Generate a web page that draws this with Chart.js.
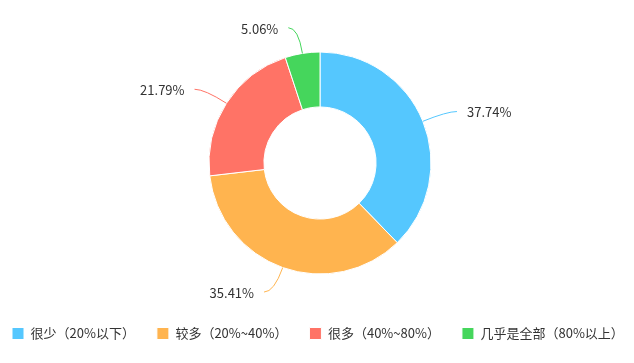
<!DOCTYPE html>
<html>
<head>
<meta charset="utf-8">
<script src="https://cdn.jsdelivr.net/npm/chart.js@4/dist/chart.umd.min.js"></script>
<style>
    html, body { margin: 0; padding: 0; background: #fff; overflow: hidden; }
    #outer { width: 634px; height: 363px; overflow: hidden; }
    #wrap { width: 640px; height: 363px; position: relative; }
</style>
</head>
<body>
<div id="outer"><div id="wrap"><canvas id="pieChart"></canvas></div></div>
<script>
// categories and shares
const categories = ['很少（20%以下）', '较多（20%~40%）', '很多（40%~80%）', '几乎是全部（80%以上）'];
const shares = [37.74, 35.41, 21.79, 5.06];
const sliceColors = ['#55c7fe', '#ffb44f', '#ff7366', '#45d65c'];

const FONT = '"Noto Sans CJK SC", "Noto Sans", sans-serif';

// draws the percent labels with curved leader lines, outside the ring
const outsideLabels = {
    id: 'outsideLabels',
    afterDatasetsDraw(chart) {
        const ctx = chart.ctx;
        const meta = chart.getDatasetMeta(0);
        meta.data.forEach((arc, i) => {
            const mid = (arc.startAngle + arc.endAngle) / 2;
            const r = arc.outerRadius;
            const cx = arc.x, cy = arc.y;
            const cos = Math.cos(mid), sin = Math.sin(mid);
            const x0 = cx + cos * r, y0 = cy + sin * r;
            const x1 = cx + cos * (r + 26), y1 = cy + sin * (r + 26);
            const dir = cos >= 0 ? 1 : -1;
            const x2 = x1 + dir * 10, y2 = y1;

            ctx.save();
            ctx.strokeStyle = sliceColors[i];
            ctx.lineWidth = 1;
            ctx.beginPath();
            ctx.moveTo(x0, y0);
            ctx.quadraticCurveTo(x1, y1, x2, y2);
            ctx.stroke();

            ctx.fillStyle = '#333';
            ctx.font = '13px ' + FONT;
            ctx.textBaseline = 'middle';
            ctx.textAlign = dir > 0 ? 'left' : 'right';
            ctx.fillText(shares[i].toFixed(2) + '%', x2 + dir * 10, y2 + 1);
            ctx.restore();
        });
    }
};

new Chart(document.getElementById('pieChart'), {
    type: 'doughnut',
    data: {
        labels: categories,
        datasets: [{
            data: shares,
            backgroundColor: sliceColors,
            borderColor: '#fff',
            borderWidth: 1,
            hoverOffset: 0
        }]
    },
    options: {
        responsive: true,
        maintainAspectRatio: false,
        animation: false,
        radius: 111,
        cutout: '50.5%',
        layout: {
            padding: { top: 21, left: -10, right: -16, bottom: 13 }
        },
        plugins: {
            legend: {
                position: 'bottom',
                align: 'start',
                labels: {
                    boxWidth: 12,
                    boxHeight: 12,
                    padding: 22,
                    color: '#333',
                    font: { size: 13, family: FONT }
                }
            },
            tooltip: { enabled: false }
        }
    },
    plugins: [outsideLabels]
});
</script>
</body>
</html>
